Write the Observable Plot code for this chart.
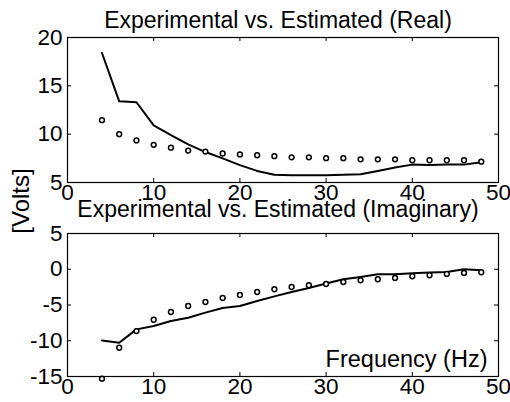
<!DOCTYPE html>
<html>
<head>
<meta charset="utf-8">
<script src="https://cdn.jsdelivr.net/npm/d3@7"></script>
<script src="https://cdn.jsdelivr.net/npm/@observablehq/plot@0.6"></script>
<style>
  html, body { margin: 0; padding: 0; background: white; }
  #wrap { position: relative; width: 510px; height: 402px; font-family: "Liberation Sans", Arial, sans-serif; }
  #wrap svg { display: block; overflow: visible; }
  #ylab { position: absolute; left: 21px; top: 201px; transform: translate(-50%, -50%) rotate(-90deg); font-size: 24px; white-space: nowrap; color: black; z-index: 2; }
</style>
</head>
<body>
<div id="wrap"><div id="ylab">[Volts]</div></div>
<script>
const freq = [4, 6, 8, 10, 12, 14, 16, 18, 20, 22, 24, 26, 28, 30, 32, 34, 36, 38, 40, 42, 44, 46, 48];
const realEstimated = [18.4, 13.4, 13.3, 10.9, 9.9, 8.95, 8.15, 7.5, 6.8, 6.2, 5.8, 5.75, 5.75, 5.75, 5.8, 5.85, 6.2, 6.55, 6.85, 6.8, 6.85, 6.85, 7.1];
const realExperimental = [11.45, 10.0, 9.35, 8.9, 8.6, 8.3, 8.2, 8.0, 7.9, 7.82, 7.72, 7.6, 7.6, 7.52, 7.52, 7.4, 7.4, 7.4, 7.3, 7.3, 7.3, 7.3, 7.15];
const imagEstimated = [-9.95, -10.28, -8.41, -7.94, -7.24, -6.78, -6.07, -5.42, -5.14, -4.44, -3.79, -3.18, -2.62, -2.0, -1.4, -1.07, -0.7, -0.7, -0.56, -0.47, -0.37, 0.0, -0.14];
const imagExperimental = [-15.3, -10.98, -8.64, -7.06, -5.98, -5.14, -4.58, -4.02, -3.6, -3.18, -2.8, -2.48, -2.24, -2.06, -1.78, -1.54, -1.4, -1.21, -0.98, -0.84, -0.65, -0.51, -0.42];
const xTicks = [0, 10, 20, 30, 40, 50];
const yTicksReal = [5, 10, 15, 20];
const yTicksImag = [-15, -10, -5, 0, 5];
const titles = ["Experimental vs. Estimated (Real)", "Experimental vs. Estimated (Imaginary)"];
const xLabel = "Frequency (Hz)";

const font = {fontFamily: "'Liberation Sans', Arial, sans-serif", fontSize: "22px", background: "white", overflow: "visible", color: "black"};
const fmt = d => String(d);

function panel({height, mt, mb, ydomain, yticks, est, exp, title, titleDy, extra = []}) {
  const fh = height - mt - mb;
  const fw = 510 - 67 - 12;
  const estData = freq.map((f, i) => ({f, v: est[i]}));
  const expData = freq.map((f, i) => ({f, v: exp[i]}));
  return Plot.plot({
    width: 510, height,
    marginLeft: 67, marginRight: 12, marginTop: mt, marginBottom: mb,
    style: font,
    x: {domain: [0, 50]},
    y: {domain: ydomain},
    marks: [
      Plot.line(estData, {x: "f", y: "v", stroke: "black", strokeWidth: 2}),
      Plot.dot(expData, {x: "f", y: "v", r: 2.4, stroke: "black", strokeWidth: 1.5, fill: "white"}),
      Plot.frame({stroke: "black", strokeWidth: 1.2}),
      Plot.tickX(xTicks, {x: d => d, insetTop: fh - 4, stroke: "black"}),
      Plot.tickX(xTicks, {x: d => d, insetBottom: fh - 4, stroke: "black"}),
      Plot.tickY(yticks, {y: d => d, insetRight: fw - 4, stroke: "black"}),
      Plot.tickY(yticks, {y: d => d, insetLeft: fw - 4, stroke: "black"}),
      Plot.axisX({ticks: xTicks, tickSize: 0, tickPadding: 2, label: null, fontSize: 22.5, tickFormat: fmt}),
      Plot.axisY({ticks: yticks, tickSize: 0, tickPadding: 5, label: null, fontSize: 22.5, tickFormat: fmt}),
      Plot.text([title], {frameAnchor: "top", lineAnchor: "bottom", dy: titleDy, dx: -5, fontSize: 23, fill: "black"}),
      ...extra
    ]
  });
}

const wrap = document.getElementById("wrap");
wrap.appendChild(panel({height: 200, mt: 37, mb: 18, ydomain: [5, 20], yticks: yTicksReal,
  est: realEstimated, exp: realExperimental, title: titles[0], titleDy: -10}));
wrap.appendChild(panel({height: 202, mt: 33, mb: 26, ydomain: [-15, 5], yticks: yTicksImag,
  est: imagEstimated, exp: imagExperimental, title: titles[1], titleDy: -17,
  extra: [Plot.text([xLabel], {frameAnchor: "bottom-right", textAnchor: "end", lineAnchor: "bottom", dx: -11, dy: -10, fontSize: 23.5, fill: "black"})]}));
</script>
</body>
</html>
